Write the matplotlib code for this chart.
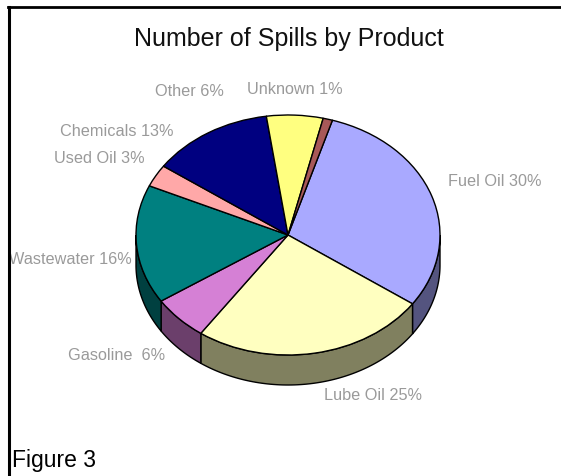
import numpy as np
import matplotlib
matplotlib.use("Agg")
import matplotlib.pyplot as plt
from matplotlib.lines import Line2D

W, H = 561, 476
title = "Number of Spills by Product"
caption = "Figure 3"
products = ["Fuel Oil", "Lube Oil", "Gasoline ", "Wastewater", "Used Oil", "Chemicals", "Other", "Unknown"]
shares = [30, 25, 6, 16, 3, 13, 6, 1]
top_colors = ["#A9A9FF", "#FFFFC0", "#D580D5", "#008080", "#FFA8A8", "#000080", "#FFFF80", "#A85858"]
side_colors = ["#54547F", "#80805F", "#6B3F6B", "#004040", "#7F5454", "#000040", "#80803F", "#542C2C"]
label_left = [448, 324, 68, 9, 54, 60, 155, 247]
label_mid_y = [182, 395, 355, 259, 159, 132, 91, 90]

plt.rcParams["font.family"] = ["Liberation Sans", "DejaVu Sans"]
fig = plt.figure(figsize=(W / 100, H / 100), dpi=100, facecolor="white")

cx, cy, rx, ry, depth = 288, 235, 152, 120, 30
ax = fig.add_axes([(cx - rx) / W, 1 - (cy + ry) / H, 2 * rx / W, 2 * ry / H])
start_clock = 17  # degrees clockwise from 12 o'clock where the first slice begins
ax.pie(shares, colors=top_colors, startangle=90 - start_clock, counterclock=False,
       radius=1, wedgeprops=dict(edgecolor="black", linewidth=1.0, zorder=3))
ax.set_aspect("auto")
ax.set_xlim(-1, 1)
ax.set_ylim(-1, 1)
ax.axis("off")

# visible rim: part of each slice in the front half of the ellipse
d = depth / ry
edges = start_clock + np.cumsum([0] + shares) * 3.6
for a, b, c in zip(edges[:-1], edges[1:], side_colors):
    lo, hi = max(a, 90), min(b, 270)
    if hi <= lo:
        continue
    t = np.radians(np.linspace(lo, hi, 80))
    x, y = np.sin(t), np.cos(t)
    ax.fill(np.r_[x, x[::-1]], np.r_[y, y[::-1] - d], facecolor=c, edgecolor="black",
            linewidth=1.0, zorder=2, clip_on=False)

def fx(px):
    return px / W

def fy(px):
    return 1 - px / H

for name, pct, lx, ly in zip(products, shares, label_left, label_mid_y):
    fig.text(fx(lx), fy(ly), f"{name} {pct}%", color="#9A9A9A", fontsize=11.7,
             ha="left", va="center", zorder=1)

fig.text(fx(288.5), fy(39), title, color="#111111", fontsize=18, ha="center", va="center")
fig.text(fx(11.5), fy(461), caption, color="black", fontsize=16.5, ha="left", va="center")

fig.add_artist(Line2D([fx(8.5), fx(8.5)], [0, fy(7)], color="black", linewidth=2.2, zorder=5))
fig.add_artist(Line2D([fx(7.5), 1], [fy(7), fy(7)], color="black", linewidth=2.0, zorder=5))

fig.savefig("out.png", dpi=100, facecolor="white")
